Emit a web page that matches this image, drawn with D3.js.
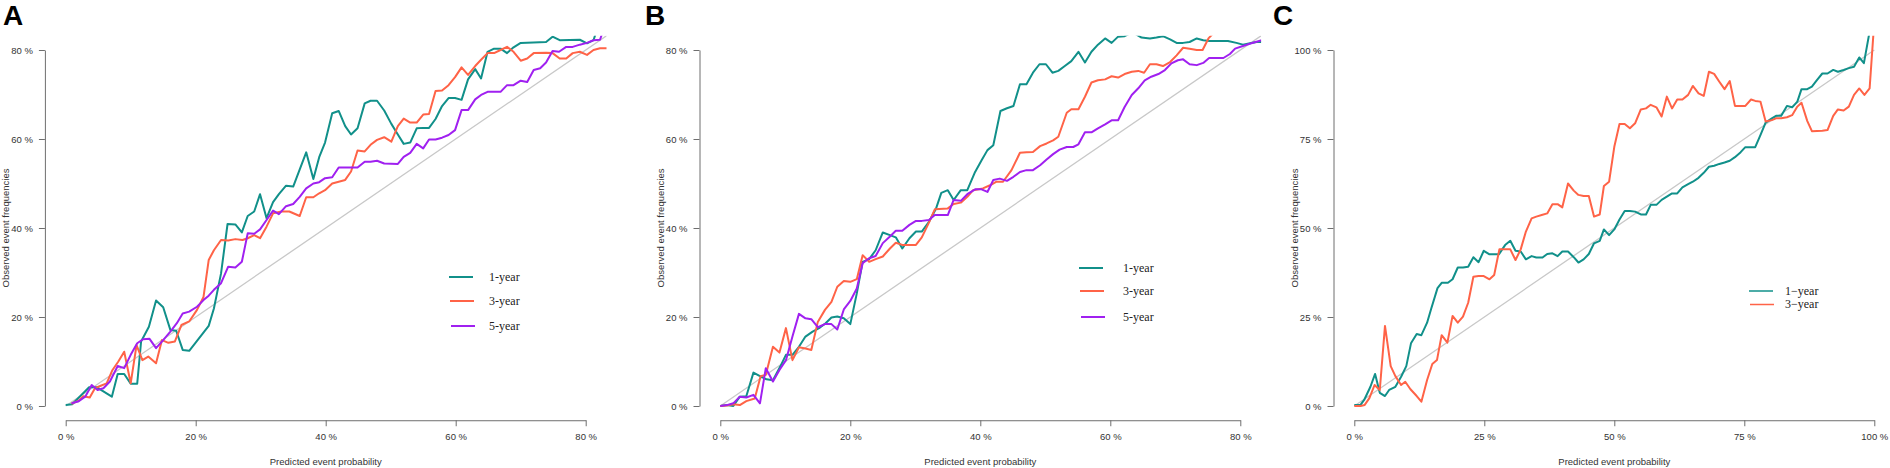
<!DOCTYPE html>
<html>
<head>
<meta charset="utf-8">
<script src="https://cdn.jsdelivr.net/npm/d3@7"></script>
<style>
  body { margin: 0; background: #fff; }
  svg text { font-family: "Liberation Sans", Arial, sans-serif; }
</style>
</head>
<body>
<div id="main"></div>
<script>
// values, in percent: [predicted, observed]
var aOneYear = [[0,0.2],[1,0.4],[3.6,4.2],[4.8,4.2],[7.1,2.1],[8,7.2],[9,7.2],[10,5],[11,5],[11.6,14.5],[12.8,17.8],[13.9,23.7],[15,22.2],[16.1,17.1],[17,16.9],[18,12.6],[19,12.4],[22,18],[22.8,21.9],[23.9,29.8],[24.9,40.9],[26.1,40.8],[27.1,39],[28,42.7],[29,43.7],[29.9,47.6],[30.9,42.2],[31.9,45.8],[32.8,47.6],[33.9,49.5],[35,49.3],[37,57],[38.1,51],[39,55.9],[39.9,59.2],[41,65.8],[42,66.3],[43,62.9],[43.9,61],[44.9,62.4],[46,68],[46.9,68.6],[47.9,68.6],[49,66.4],[50.1,63.4],[51.1,61],[52,58.9],[53,59.2],[54,62.4],[55,62.5],[55.9,62.5],[56.9,64.5],[57.9,67.4],[58.9,69.2],[59.9,69.2],[60.9,68.8],[61.9,73.4],[63,75.7],[63.9,73.6],[64.9,79.6],[65.9,80.3],[66.9,80.3],[67.9,79.3],[68.9,80.6],[70,81.6],[73.9,81.8],[74.9,83],[76,82.2],[79.1,82.3],[80.2,81.5],[81.2,82.2],[81.6,84]];
var aThreeYear = [[0.9,0.5],[2,1.2],[2.7,2.2],[3.7,1.9],[4.5,4],[5.3,4.5],[6.3,5.1],[7.2,8.1],[8.1,10],[9,12.2],[10,5.1],[10.9,13.7],[11.8,10.3],[12.7,11.1],[13.9,9.6],[14.8,14.8],[15.8,14.2],[16.8,14.5],[17.8,18.2],[19,19],[20.2,21.6],[21.2,24.5],[22,32.8],[22.8,35],[23.9,37.3],[25,37.2],[26.1,37.5],[27.2,37.3],[28,37.7],[29,38.4],[29.9,37.7],[30.9,40.3],[31.9,43.3],[33.2,43.7],[34.4,43.7],[36,42.7],[37,46.9],[38.1,46.9],[39,47.8],[39.9,48.5],[41,50],[42,50.4],[43,50.8],[43.9,52.7],[44.9,57.4],[46,57.2],[46.9,58.7],[47.9,59.8],[49,60.4],[50.1,59.4],[51.1,62.9],[52,64.6],[53,63.7],[54,63.7],[55,65.5],[55.9,65.6],[56.9,70.8],[57.9,70.9],[58.9,72.1],[59.9,73.9],[60.9,76.1],[61.9,74.4],[63,76.4],[63.9,77.8],[64.9,79.3],[65.9,79.3],[66.9,80],[67.9,80.7],[68.9,79.6],[70,77.6],[71,78.1],[72,79.3],[73.9,79.4],[74.9,79.3],[76,78.1],[77,78.1],[78,79.3],[79.1,79.6],[80.2,78.9],[81.2,80],[82.2,80.4],[83.3,80.4]];
var aFiveYear = [[0.9,0.6],[1.9,1],[3,2.1],[4,4.7],[4.9,3.6],[5.8,4],[6.8,5.5],[8,9],[9,8.5],[10,11.5],[11,14.1],[11.9,15],[12.9,15.1],[13.9,13],[15,14.8],[16.1,16.7],[17.1,18.6],[18,20.8],[19,21.2],[20.2,22.3],[21.2,23.8],[22,24.8],[22.8,26.1],[23.9,27.6],[25,31.3],[26.1,31.1],[27.1,32.4],[28,38.8],[29,38.7],[29.9,39.7],[30.9,41.8],[31.9,43.9],[32.8,43.1],[33.9,44.9],[35,45.4],[36,47],[37,48.9],[38.1,50],[39,50.3],[39.9,51.2],[41,51.4],[42,53.6],[44.9,53.6],[46,54.9],[46.9,54.9],[47.9,55.1],[49,54.5],[51.1,54.4],[52,56],[53,56.9],[54,58.9],[55,57.9],[55.9,59.9],[56.9,59.9],[57.9,60.3],[58.9,60.9],[59.9,62],[60.9,66.5],[61.9,66.5],[63,68.9],[63.9,69.9],[64.9,70.6],[66.9,70.6],[67.9,72.1],[68.9,72.1],[70,73.1],[71,72.8],[72,75.5],[73,75.9],[73.9,77.2],[74.9,79.8],[75.9,79.6],[77,80.7],[78,80.7],[79.1,81.2],[80.2,81.6],[81.2,82.2],[82.2,82.3],[82.6,84]];

var bOneYear = [[0,0],[1,0.2],[2,0],[3,2.1],[4,2.2],[5.1,7.5],[6.1,6.7],[7.1,6],[8.1,5.8],[9.2,8.8],[10.1,11.5],[11.1,11.5],[12.1,13.3],[13.1,15.6],[14.2,16.7],[15.2,17.5],[16.2,18.6],[17.1,19.9],[18,20.1],[19,19.7],[20,18.4],[21,25.3],[21.9,32.4],[22.9,33],[23.9,35],[25,39],[26.1,38.4],[27,37.9],[28,35.4],[29.1,37.7],[30.1,39.2],[31,39.2],[32.1,41.4],[33.2,44.4],[34,47.9],[35,48.5],[35.9,46.3],[37,48.5],[38,48.5],[39.2,52.6],[40.2,55.2],[41.1,57.5],[42,58.6],[43.1,66.3],[44.1,66.9],[45.1,67.4],[46.1,72.3],[47.1,72.3],[48.1,74.9],[49.1,76.8],[50.1,76.8],[51.1,74.9],[52,75.3],[53,76.4],[54,77.5],[55.1,79.6],[56.1,77.2],[57.1,79.6],[58.1,81.2],[59.2,82.6],[60.2,81.6],[61.2,83],[62.2,83.1],[63.4,84],[64.8,82.8],[66.1,82.6],[67.1,82.8],[68.1,83.1],[69.2,82.4],[70.2,81.6],[71.2,81.6],[72.2,81.8],[73.3,82.6],[74.3,82.2],[75.3,82],[78.1,82],[79.4,81.6],[80.4,81.2],[81.5,81.5],[82.5,81.8],[83.3,81.8]];
var bThreeYear = [[0,0],[1,0.1],[2,0.4],[3,0.2],[4,1.1],[5.3,1.7],[6.2,6.7],[7,7],[8.1,13.3],[9.1,12],[10.1,17.5],[11.1,10.3],[12.1,13.2],[13.1,12.9],[14,12.6],[15,18.9],[16.1,21.6],[17.1,23.4],[18,26.8],[19,28.1],[20,27.9],[21,28.5],[21.9,33.9],[22.9,32.4],[23.9,33],[25,33.6],[26.1,35.4],[27,36.7],[28,36.2],[30.1,36.2],[31,37.9],[32.1,41.2],[33,44.2],[35,44.4],[35.9,45.4],[37,45.7],[38,47],[38.9,48.5],[40.4,48.9],[41.5,49.6],[42.5,50.4],[43.5,50.4],[44.8,53],[46.1,56.9],[47.1,57],[48.1,57.1],[49.2,58.4],[50.2,59],[51.2,59.7],[52,60.5],[53.3,65.9],[54,66.7],[55.1,66.7],[56.1,69.5],[57.1,72.7],[58.1,73.2],[59.2,73.4],[60.2,74.1],[61.2,73.8],[62.2,74.6],[63.3,75.1],[64.3,75.3],[65.2,74.9],[66.1,76.8],[67.1,76.8],[68.1,76.4],[69.2,77.3],[70.2,78.8],[71.2,80.5],[72.2,80.3],[73.3,80],[74.2,80],[75.1,82.6],[76,84]];
var bFiveYear = [[0,0],[1,0.2],[2,0.6],[3,2.1],[4,1.9],[5.1,2.5],[6.1,0.6],[7,8.5],[8.1,5.5],[9.1,8.1],[10.1,10.3],[11.1,15.6],[12.1,20.7],[13.1,19.7],[14,19.5],[15,17.7],[16.1,18.4],[17.1,18.4],[18,17.2],[19,21.7],[20,23.6],[21,26.4],[21.9,32.1],[22.9,33.2],[23.9,33.7],[25,36.6],[26.1,38.1],[27,39.4],[28,39.4],[29.1,40.7],[30.1,41.6],[31,41.6],[32.1,41.8],[33,42.9],[35,42.9],[35.9,46.3],[37,46.1],[38,47.6],[39.2,48.7],[40.2,48.7],[41.1,48.1],[42,50.8],[43,51.1],[44.1,50.6],[45.1,51.5],[46.1,52.6],[47.1,53],[48.1,53],[49.2,54.1],[50.2,55.4],[51.2,56.6],[52.2,57.6],[53.3,58.2],[54.3,58.2],[55.1,58.8],[56.1,61.5],[57.1,61.5],[58.1,62.4],[59.2,63.3],[60.2,64.2],[61.2,64.2],[62.2,67.2],[63.3,69.9],[64.3,71.4],[65.3,73.2],[66.3,74],[67.4,74.6],[68.4,75.5],[69.4,77],[70.4,77.7],[71.2,77.9],[72.2,76.8],[73.3,76.6],[74.3,77.1],[75.2,78.2],[77.4,78.2],[78.4,79.1],[79.2,80.3],[80.4,80.9],[81.7,81.5],[83.3,82.2]];

var cOneYear = [[0,0.3],[1.2,0.3],[1.9,1.7],[3.1,5.4],[4,9],[4.9,3.7],[5.9,2.8],[6.7,4.5],[7.9,5.4],[9,8.2],[10,11.2],[10.9,17.6],[12,20.2],[12.9,19.9],[14,23.4],[14.8,27.4],[16,33.1],[16.8,34.6],[18,34.6],[18.9,35.6],[19.9,38.9],[20.9,38.9],[21.9,39.1],[22.9,41.8],[23.9,40.4],[24.9,43.6],[26,42.6],[27.8,42.6],[29,45.2],[30,46.4],[31,43.6],[32,43.4],[33,41.2],[34.1,42.1],[35,41.7],[36.2,41.7],[37.1,42.7],[38.1,42.9],[39.1,42.1],[40,43.4],[41.1,43.4],[42.2,41.8],[43.1,40.3],[44.1,41.2],[45.1,42.7],[46.1,45.7],[47.2,46.4],[48,49.6],[49,48],[50,49.6],[51,52.4],[52,54.8],[53,54.8],[54,54.6],[55.1,53.8],[56.1,53.8],[57,56.5],[58.1,56.5],[59.1,57.9],[60.1,58.8],[61.1,59.7],[62.1,59.7],[63.1,61.4],[64.2,62.3],[65.1,63],[66.2,64.1],[67.2,65.5],[68.2,67.2],[69.2,67.5],[70.2,68],[71.2,68.4],[72.2,68.9],[73.2,69.9],[74.3,71.3],[75.2,72.7],[77.1,72.7],[78.1,76.1],[79.1,79.6],[80.3,80.8],[81.1,81.5],[82.1,81.5],[83.2,84.3],[84.2,83.9],[85.2,85.5],[86,89],[87.1,89],[88,89.7],[89,91.6],[90,93.4],[91,93.4],[92.1,94.4],[93,93.9],[94.1,94.4],[95.1,94.9],[96.1,95.3],[97.1,97.9],[98,96.3],[99.2,106]];
var cThreeYear = [[0,0],[1.2,0],[2,0.3],[2.9,2.2],[3.9,5.9],[4.9,4.5],[5.9,22.5],[7,11.2],[7.9,8.4],[9,5.9],[9.8,6.8],[10.8,4.7],[12,2.8],[12.9,1.2],[14,7.3],[15,11.8],[15.9,12.9],[16.8,19.9],[17.9,17.8],[18.9,25.3],[19.9,23.4],[20.9,25.1],[21.9,29],[22.9,36.3],[23.9,36.5],[24.9,36.5],[26,35.6],[26.9,36.8],[27.9,44],[30,44],[31,41],[32,44],[33,49],[34.1,52.7],[35,53.2],[36.2,53.7],[37.1,54.1],[38.1,56.7],[39.1,56.7],[40,55.8],[41.1,62.5],[42.2,60.5],[43.1,59.3],[44.1,59],[45.1,59],[46.1,53.2],[47.2,53.8],[48,61.8],[49,63],[50,72.8],[51,79.2],[52,79.2],[53,78],[54,79.4],[55.1,83.3],[56.1,83.6],[57,84.6],[58.1,83.9],[59.1,81.3],[60.1,86.9],[61.1,83.6],[62.1,86.1],[63.1,86.1],[64.2,87.4],[65.1,89.9],[66.2,87.8],[67.2,87.1],[68.2,93.9],[69.2,93.3],[70.2,91.1],[71.2,89],[72.2,91.3],[73.2,84.3],[75.2,84.3],[76.3,86.1],[77.1,85.7],[78.1,85.5],[79.1,79.9],[80.3,80.3],[81.1,80.8],[82.1,80.8],[83.2,81.1],[84.2,81.7],[85.2,84.1],[86,85.2],[87.1,80.1],[88,77.2],[90,77.3],[91,77.5],[92.1,81.5],[93,83.3],[94.1,83],[95.1,84.1],[96.1,87.4],[97.1,89.2],[98.1,87.4],[99.1,89.2],[99.9,106]];

var ticksAB = [0, 20, 40, 60, 80];
var ticksC = [0, 25, 50, 75, 100];
var labelsABC = ["1-year", "3-year", "5-year"];
var labelsC = ["1\u2212year", "3\u2212year"];
var colors = ["#11908a", "#ff6347", "#a020f0"];

var W = 1890, H = 468;
var Y0 = 406, Y1 = 50;   // pixel rows of 0 and of the top tick

var panels = [
  {letter: "A", lx: 3, x0: 65.7, x1: 585.7, max: 80, ticks: ticksAB,
   series: [aOneYear, aThreeYear, aFiveYear], labels: labelsABC,
   leg: {x: 449, len: 24, tx: 489, ys: [277, 301, 326], size: 12, w: 2}},
  {letter: "B", lx: 645, x0: 720.3, x1: 1240.3, max: 80, ticks: ticksAB,
   series: [bOneYear, bThreeYear, bFiveYear], labels: labelsABC,
   leg: {x: 1079, len: 24, tx: 1123, ys: [268, 291, 317], size: 12, w: 2}},
  {letter: "C", lx: 1273, x0: 1354.3, x1: 1874.3, max: 100, ticks: ticksC,
   series: [cOneYear, cThreeYear], labels: labelsC,
   leg: {x: 1749, len: 24, tx: 1785, ys: [291, 304.5], size: 12, w: 1.5}}
];

var svg = d3.select("#main").append("svg")
    .attr("width", W)
    .attr("height", H);

svg.append("rect").attr("width", W).attr("height", H).attr("fill", "#fff");

panels.forEach(function(p, i) {
    var x = d3.scaleLinear().domain([0, p.max]).range([p.x0, p.x1]);
    var y = d3.scaleLinear().domain([0, p.max]).range([Y0, Y1]);

    // R style plot region: 4% wider than the data range
    var lo = -0.04 * p.max, hi = 1.04 * p.max;
    var left = x(lo), right = x(hi), top = y(hi), bottom = y(lo);

    var g = svg.append("g");

    g.append("clipPath").attr("id", "clip" + i)
        .append("rect")
        .attr("x", left).attr("y", top)
        .attr("width", right - left).attr("height", bottom - top);

    // axes
    var yAxis = d3.axisLeft(y).tickValues(p.ticks).tickSize(6).tickSizeOuter(0)
        .tickPadding(6).tickFormat(function(d) { return d + " %"; });
    var xAxis = d3.axisBottom(x).tickValues(p.ticks).tickSize(6).tickSizeOuter(0)
        .tickPadding(7).tickFormat(function(d) { return d + " %"; });

    var ya = g.append("g").attr("transform", "translate(" + left + ",0)").call(yAxis);
    var xa = g.append("g").attr("transform", "translate(0," + bottom + ")").call(xAxis);
    [ya, xa].forEach(function(a) {
        a.selectAll("path, line").attr("stroke", "#6e6e6e");
        a.selectAll("text").attr("fill", "#333")
            .style("font-size", "9.5px")
            .style("font-family", "'Liberation Sans', Arial, sans-serif");
    });

    // axis titles
    g.append("text")
        .attr("transform", "translate(" + (left - 36) + "," + ((top + bottom) / 2) + ") rotate(-90)")
        .attr("text-anchor", "middle")
        .attr("fill", "#333")
        .style("font-size", "9.5px")
        .text("Observed event frequencies");
    g.append("text")
        .attr("x", (left + right) / 2)
        .attr("y", 464.5)
        .attr("text-anchor", "middle")
        .attr("fill", "#333")
        .style("font-size", "9.5px")
        .text("Predicted event probability");

    // panel letter
    g.append("text")
        .attr("x", p.lx).attr("y", 25)
        .attr("fill", "#000")
        .style("font-size", "28px")
        .style("font-weight", "bold")
        .text(p.letter);

    var plot = g.append("g").attr("clip-path", "url(#clip" + i + ")");

    var line = d3.line()
        .x(function(d) { return x(d[0]); })
        .y(function(d) { return y(d[1]); });

    // reference diagonal
    plot.append("path")
        .datum([[0, 0], [100, 100]])
        .attr("d", line)
        .attr("fill", "none")
        .attr("stroke", "#c8c8c8")
        .attr("stroke-width", 1.3);

    plot.selectAll("path.curve")
        .data(p.series)
        .enter()
        .append("path")
        .attr("class", "curve")
        .attr("d", line)
        .attr("fill", "none")
        .attr("stroke", function(d, k) { return colors[k]; })
        .attr("stroke-width", 2)
        .attr("stroke-linejoin", "round");

    // legend
    var leg = g.append("g");
    p.labels.forEach(function(lab, k) {
        var ly = p.leg.ys[k];
        leg.append("line")
            .attr("x1", p.leg.x + k).attr("x2", p.leg.x + k + p.leg.len)
            .attr("y1", ly).attr("y2", ly)
            .attr("stroke", colors[k])
            .attr("stroke-width", p.leg.w);
        leg.append("text")
            .attr("x", p.leg.tx).attr("y", ly)
            .attr("dy", "0.32em")
            .attr("fill", "#222")
            .style("font-family", "'Liberation Serif', 'Times New Roman', serif")
            .style("font-size", p.leg.size + "px")
            .text(lab);
    });
});
</script>
</body>
</html>
